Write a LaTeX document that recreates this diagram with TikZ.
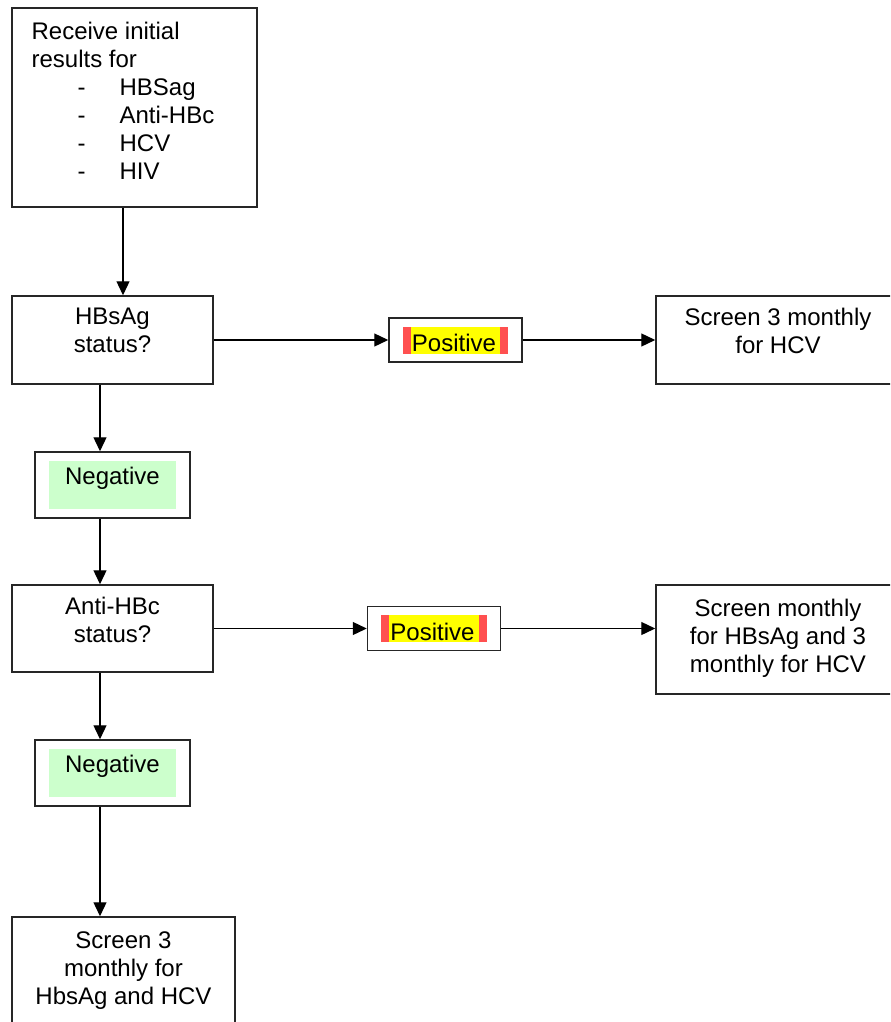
\documentclass[tikz,border=0pt]{standalone}
\usepackage{xcolor}
\usepackage{fontspec}
\setmainfont{Liberation Sans}
\usetikzlibrary{arrows.meta}
\usetikzlibrary{positioning}
\definecolor{hlyellow}{RGB}{255,255,0}
\definecolor{hlred}{RGB}{255,80,80}
\definecolor{neggreen}{RGB}{204,255,204}
\newcommand{\poshl}[1]{{\fboxsep=0pt\colorbox{hlred}{\hspace*{4pt}\colorbox{hlyellow}{\rule[-1pt]{0pt}{13.5pt}\hspace*{0.5pt}#1\hspace*{2pt}}\hspace*{4pt}}}}

\begin{document}
\begin{tikzpicture}[x=0.5pt,y=-0.5pt,
    font=\fontsize{12}{14}\selectfont,
    box/.style={draw=black!85,line width=0.75pt,inner sep=0pt},
    txt/.style={align=center,inner sep=0pt},
    arr/.style={-{Triangle[length=7pt,width=6.5pt]},line width=0.65pt},
    posbox/.style={box,minimum width=66.5pt,minimum height=22pt},
    negbox/.style={box,minimum width=77.5pt,minimum height=33pt},
    negfill/.style={fill=neggreen,inner sep=0pt,minimum width=63.5pt,
      minimum height=24pt,text height=11.5pt,text depth=12.5pt}]
        \clip (0,0) rectangle (890,1022);
        % first step
        \node[box,minimum width=122.5pt,minimum height=99.5pt] (init) at (134.5,107.5) {};
        \node[txt,align=left,anchor=west] (initT) at ([xshift=10pt,yshift=3.5pt]init.west)
          {Receive initial\\results for\\
           \hspace*{23pt}\makebox[21pt][l]{-}HBSag\\
           \hspace*{23pt}\makebox[21pt][l]{-}Anti-HBc\\
           \hspace*{23pt}\makebox[21pt][l]{-}HCV\\
           \hspace*{23pt}\makebox[21pt][l]{-}HIV};
        % HBsAg
        \node[box,minimum width=100.5pt,minimum height=44pt] (hbs) at (112.5,340) {};
        \node[txt] (hbsT) at ([yshift=5pt]hbs.center) {HBsAg\\status?};
        \node[posbox] (pos1) at (455.5,340) {\poshl{Positive}};
        \node[box,minimum width=122pt,minimum height=44pt] (scr1) at (778,340) {};
        \node[txt] (scr1T) at ([yshift=4.5pt]scr1.center) {Screen 3 monthly\\for HCV};
        \node[negbox] (neg1) at (112.5,485) {};
        \node[negfill] (neg1T) at (neg1.center) {Negative};
        % Anti-HBc
        \node[box,minimum width=100.5pt,minimum height=43.5pt] (ahbc) at (112.5,628.5) {};
        \node[txt] (ahbcT) at ([yshift=4.1pt]ahbc.center) {Anti-HBc\\status?};
        \node[posbox] (pos2) at (434,628.5) {\poshl{Positive}};
        \node[box,minimum width=122pt,minimum height=54.5pt] (scr2) at (778,639.5) {};
        \node[txt] (scr2T) at ([yshift=0.65pt]scr2.center)
          {Screen monthly\\for HBsAg and 3\\monthly for HCV};
        \node[negbox] (neg2) at (112.5,773) {};
        \node[negfill] (neg2T) at (neg2.center) {Negative};
        % last step
        \node[box,minimum width=111.5pt,minimum height=65pt] (fin) at (123.5,982) {};
        \node[txt] (finT) at ([yshift=5.9pt]fin.center) {Screen 3\\monthly for\\HbsAg and HCV};
        % arrows
        \draw[arr] ([xshift=-5.75pt]init.south) -- ([xshift=-5.75pt]init.south |- hbs.north);
        \draw[arr] (hbs.east) -- (pos1.west);
        \draw[arr] (pos1.east) -- (scr1.west);
        \draw[arr] ([xshift=-6.25pt]hbs.south) -- ([xshift=-6.25pt]hbs.south |- neg1.north);
        \draw[arr] ([xshift=-6.25pt]neg1.south) -- ([xshift=-6.25pt]neg1.south |- ahbc.north);
        \draw[arr] (ahbc.east) -- (pos2.west);
        \draw[arr] (pos2.east) -- (pos2.east -| scr2.west);
        \draw[arr] ([xshift=-6.25pt]ahbc.south) -- ([xshift=-6.25pt]ahbc.south |- neg2.north);
        \draw[arr] ([xshift=-6.25pt]neg2.south) -- ([xshift=-6.25pt]neg2.south |- fin.north);
      \end{tikzpicture}
\end{document}
